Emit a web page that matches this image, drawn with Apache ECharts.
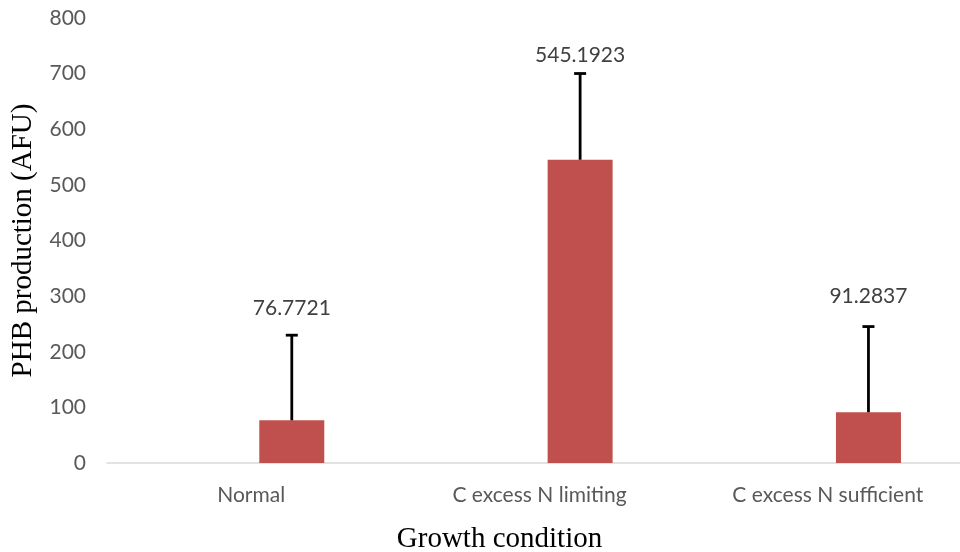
<!DOCTYPE html>
<html>
<head>
<meta charset="utf-8">
<script src="https://cdn.jsdelivr.net/npm/echarts@6/dist/echarts.min.js"></script>
<style>
  html, body { margin: 0; padding: 0; background: #fff; }
  #chart { width: 960px; height: 552px; }
</style>
</head>
<body>
<div id="chart"></div>
<script>
// Growth conditions and mean PHB production with standard deviation
const categories = ['Normal', 'C excess N limiting', 'C excess N sufficient'];
const phbMeans = [76.7721, 545.1923, 91.2837];
const phbErrors = [153, 155, 154];
const yTicks = { min: 0, max: 800, interval: 100 };

// vertical distance (px) between each error-bar cap and the centre of its value label
const labelLift = [27, 18, 30];

const BAR_WIDTH = 65;
const BAR_GAP = 0.25; // fraction of bar width between the (empty) first slot and the drawn bar
const barOffset = (BAR_WIDTH + BAR_WIDTH * BAR_GAP) / 2;

const labelFont = 'Lato, "Open Sans", "Liberation Sans", sans-serif';
const serifFont = '"Liberation Serif", "DejaVu Serif", serif';

const chart = echarts.init(document.getElementById('chart'));

chart.setOption({
  animation: false,
  grid: { left: 107, right: -12, top: 18, bottom: 89, outerBoundsMode: 'none', containLabel: false },
  xAxis: {
    type: 'category',
    data: categories,
    name: 'Growth condition',
    nameLocation: 'middle',
    nameGap: 62,
    nameTextStyle: { fontFamily: serifFont, fontSize: 29, color: '#000', padding: [0, 80, 0, 0] },
    axisLine: { lineStyle: { color: '#d9d9d9', width: 1.5 } },
    axisTick: { show: false },
    axisLabel: { fontFamily: labelFont, fontSize: 21, color: '#595959', margin: 22 }
  },
  yAxis: {
    type: 'value',
    min: yTicks.min,
    max: yTicks.max,
    interval: yTicks.interval,
    name: 'PHB production (AFU)',
    nameLocation: 'middle',
    nameGap: 69,
    nameTextStyle: { fontFamily: serifFont, fontSize: 29, color: '#000' },
    axisLine: { show: false },
    axisTick: { show: false },
    splitLine: { show: false },
    axisLabel: { fontFamily: labelFont, fontSize: 21, color: '#595959', margin: 21 }
  },
  series: [
    {
      // empty slot that keeps the drawn bars to the right of each category centre
      type: 'bar',
      data: categories.map(() => '-'),
      barWidth: BAR_WIDTH,
      barGap: (BAR_GAP * 100) + '%',
      silent: true
    },
    {
      type: 'bar',
      data: phbMeans,
      barWidth: BAR_WIDTH,
      barGap: (BAR_GAP * 100) + '%',
      itemStyle: { color: '#C0504D' }
    },
    {
      // positive error bars with the mean value printed above each
      type: 'custom',
      data: phbMeans.map((m, i) => [i, m, m + phbErrors[i]]),
      z: 10,
      renderItem: function (params, api) {
        const base = api.coord([api.value(0), api.value(1)]);
        const top = api.coord([api.value(0), api.value(2)]);
        const x = base[0] + barOffset;
        const cap = 6;
        return {
          type: 'group',
          children: [
            { type: 'line', shape: { x1: x, y1: base[1], x2: x, y2: top[1] },
              style: { stroke: '#000', lineWidth: 2.8 } },
            { type: 'line', shape: { x1: x - cap, y1: top[1], x2: x + cap, y2: top[1] },
              style: { stroke: '#000', lineWidth: 2.8 } },
            { type: 'text', x: x, y: top[1] - labelLift[params.dataIndex],
              style: { text: String(api.value(1)), fill: '#404040', font: '21px ' + labelFont,
                       align: 'center', verticalAlign: 'middle' } }
          ]
        };
      }
    }
  ]
});
</script>
</body>
</html>
